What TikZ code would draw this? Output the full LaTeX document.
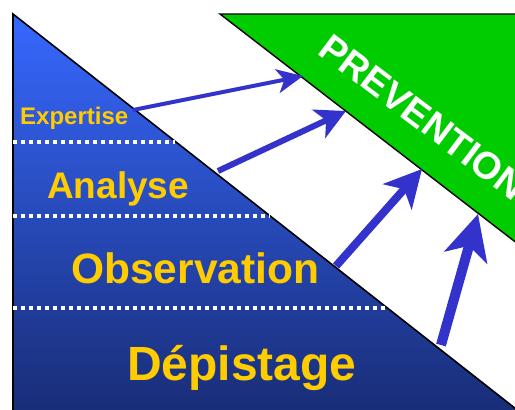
\documentclass[tikz,border=0pt]{standalone}
\usepackage{fontspec}
\setmainfont{Liberation Sans}
\usepackage{tikz}
\usetikzlibrary{arrows.meta}
\definecolor{cpyr}{HTML}{3768FF}
\definecolor{cpyrd}{HTML}{182C74}
\definecolor{cprev}{HTML}{00CC00}
\definecolor{carr}{HTML}{3333CC}
\definecolor{clab}{HTML}{FFCC00}

\begin{document}
\begin{tikzpicture}[x=1pt,y=-1pt,
  lab/.style={anchor=base west,inner sep=0pt,text=clab},
  sep/.style={white,line width=3.5pt,dash pattern=on 4pt off 4pt},
  up/.style={carr,line width=#1}]
  \useasboundingbox (0,0) rectangle (515,410);
  \clip (0,0) rectangle (515,410);
  % pyramid and prevention band
  \coordinate (p0) at (13,14);
  \coordinate (p1) at (13,420);
  \coordinate (p2) at (530,420);
  \coordinate (g0) at (220,14);
  \coordinate (g1) at (540,14);
  \coordinate (g2) at (540,261);
  \shade[top color=cpyr,bottom color=cpyrd] (p0) -- (p1) -- (p2) -- cycle;
  \draw[line width=1.6pt] (p2) -- (p0) -- (p1);
  \fill[cprev] (g0) -- (g1) -- (g2) -- cycle;
  \draw[line width=1.4pt] (g1) -- (g0) -- (g2);
  \node[anchor=base west,inner sep=0pt,rotate=-37,text=white,font=\bfseries\fontsize{38}{38}\selectfont] (prev) at (316,53) {PREVENTION};
  % layers
  \draw[sep] (13,142) -- (175,142);
  \draw[sep] (13,216) -- (270,216);
  \draw[sep] (13,308) -- (386,308);
  \node[lab,font=\bfseries\fontsize{24}{24}\selectfont] (expe) at (20,124) {Expertise};
  \node[lab,font=\bfseries\fontsize{37}{37}\selectfont] (anal) at (47,198) {Analyse};
  \node[lab,font=\bfseries\fontsize{42.5}{42.5}\selectfont] (obse) at (71,283) {Observation};
  \node[lab,font=\bfseries\fontsize{48}{48}\selectfont] (depi) at (127,380) {Dépistage};
  % arrows
  \coordinate (a1) at (133,110); \coordinate (b1) at (303,76);
  \coordinate (a2) at (218,171); \coordinate (b2) at (346,111);
  \coordinate (a3) at (336,266); \coordinate (b3) at (422,169);
  \coordinate (a4) at (441,345); \coordinate (b4) at (478,214);
  \draw[up=4pt,-{Stealth[length=26pt,width=24pt,inset=7pt]}] (a1) -- (b1);
  \draw[up=6pt,-{Stealth[length=30pt,width=31pt,inset=8pt]}] (a2) -- (b2);
  \draw[up=8pt,-{Stealth[length=37pt,width=38pt,inset=10pt]}] (a3) -- (b3);
  \draw[up=10pt,-{Stealth[length=45pt,width=44pt,inset=12pt]}] (a4) -- (b4);
\end{tikzpicture}
\end{document}
